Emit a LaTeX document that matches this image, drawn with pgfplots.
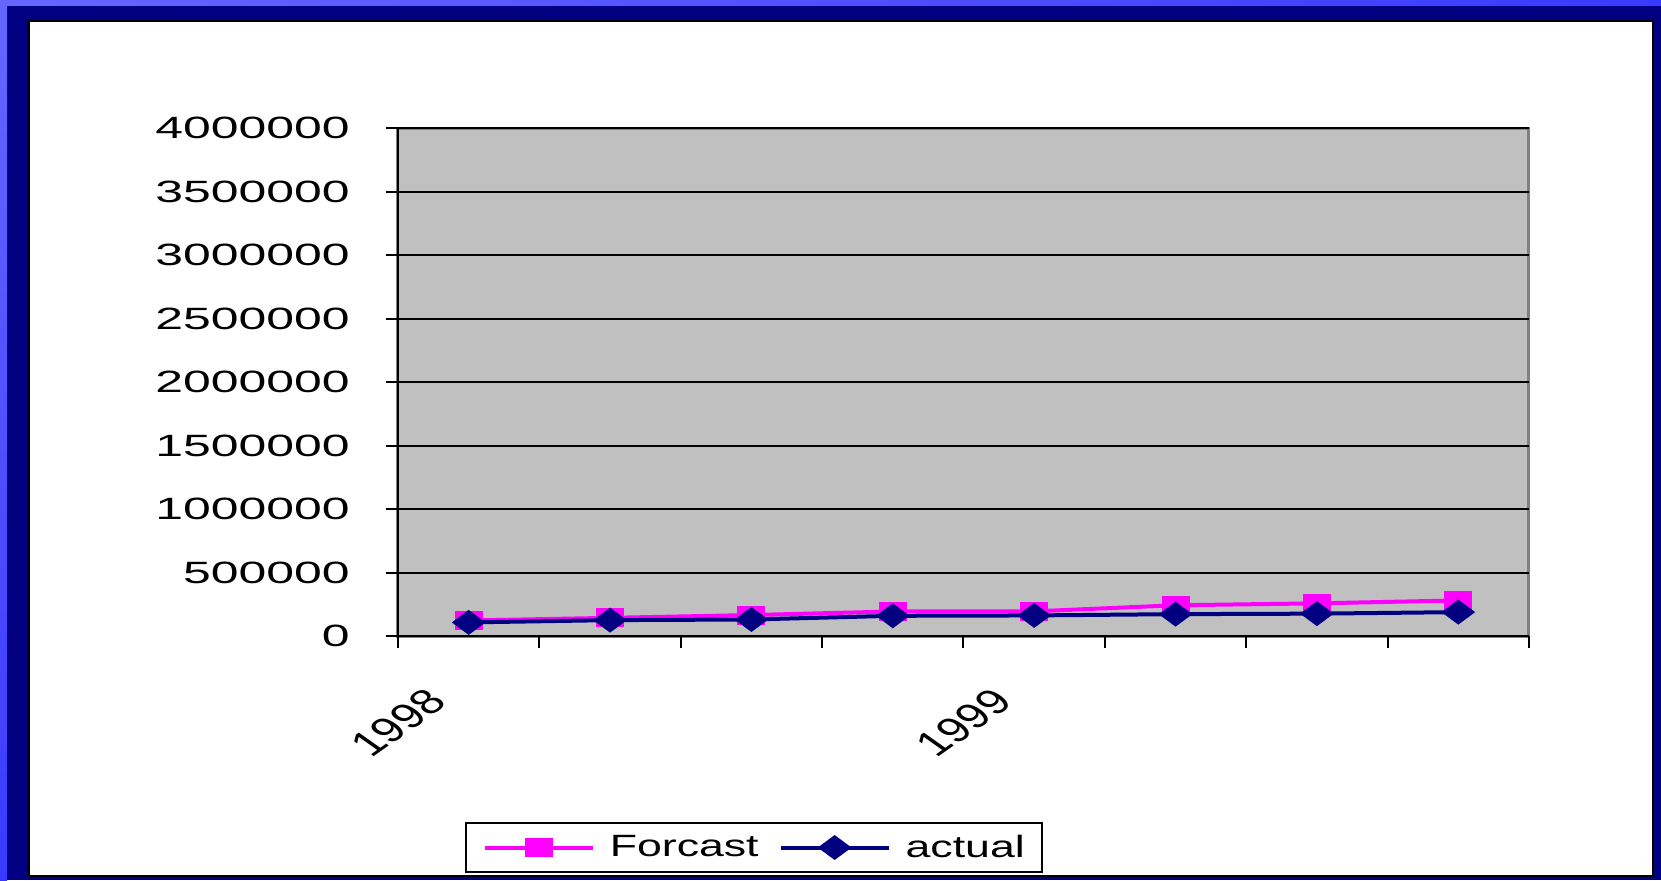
\documentclass[border=0pt]{standalone}
\usepackage{fontspec}
\setmainfont{Liberation Sans}[FakeStretch=1.55]
\newfontfamily\plainfont{Liberation Sans}
\newfontfamily\tickfont{Liberation Sans}[FakeStretch=1.62]
\newfontfamily\legfont{Liberation Sans}[FakeStretch=1.45]
\usepackage{pgfplots}
\pgfplotsset{compat=1.18}
\definecolor{navyb}{HTML}{000080}
\definecolor{magb}{HTML}{FF00FF}
\definecolor{plotgray}{HTML}{C0C0C0}
\definecolor{lightb}{HTML}{6666FF}
\definecolor{midb}{HTML}{3A3AFF}
\begin{document}
\begin{tikzpicture}
\useasboundingbox (0pt,0pt) rectangle (830.5pt,440pt);
\begin{scope}[x=0.5pt,y=-0.5pt,shift={(0pt,440pt)}]
  \fill[navyb] (0,0) rectangle (1661,880);
  \shade[top color=lightb, bottom color=midb] (0,0) rectangle (7,880);
  \shade[left color=lightb, right color=midb] (0,0) rectangle (1661,6);
  \fill[white, draw=black, line width=1pt] (29,21) rectangle (1653,876);
\end{scope}
\begin{axis}[
  at={(199pt,122pt)}, anchor=south west,
  scale only axis, width=565.5pt, height=254pt,
  xmin=0.5, xmax=8.5, ymin=0, ymax=4000000,
  xtick={1,5}, xticklabels={1998,1999},
  minor xtick={0.5,1.5,...,8.5},
  ytick={0,500000,...,4000000},
  scaled y ticks=false,
  yticklabel style={/pgf/number format/fixed, /pgf/number format/1000 sep={},
    /pgf/number format/assume math mode=true,
    font=\tickfont\fontsize{15.4}{18}\selectfont, inner sep=0pt, xshift=-18pt},
  xticklabel style={font=\plainfont\fontsize{17.5}{20}\selectfont,
    anchor=north east, inner sep=0pt, xshift=-22pt, yshift=-19pt,
    cm={1.0,0.707,-1.0,0.707,(0,0)}},
  tick align=outside,
  major tick length=6pt, minor tick length=6pt,
  major x tick style={draw=none},
  minor x tick style={black, line width=1pt},
  ytick style={black, line width=1pt},
  ymajorgrids,
  major grid style={black, line width=1pt},
  axis background/.style={fill=plotgray, draw=gray, line width=1.5pt},
  axis x line*=bottom, axis y line*=left,
  axis line style={-, black, line width=1.2pt},
  legend columns=2,
  legend cell align=left,
  legend image code/.code={\draw[mark repeat=2,mark phase=2,#1] plot coordinates {(0pt,0pt) (27pt,0pt) (54pt,0pt)};},
  legend style={at={(0.0592,-0.4665)}, anchor=south west, draw=black, line width=0.8pt, fill=white,
    font=\legfont\fontsize{15.4}{18}\selectfont,
    inner xsep=8.5pt, inner ysep=6pt, nodes={inner sep=0pt},
    /tikz/every odd column/.append style={column sep=7.5pt},
    /tikz/every even column/.append style={column sep=10pt}},
]
\addplot[magb, line width=2pt, mark=square*, mark size=3.75pt, mark options={xscale=1.6, solid, fill=magb}]
  coordinates {(1,122000) (2,143000) (3,165000) (4,193000) (5,194000) (6,242000) (7,257000) (8,280000)};
\addlegendentry{Forcast}
\addplot[navyb, line width=2pt, mark=diamond*, mark size=5pt, mark options={xscale=1.8, solid, fill=navyb}]
  coordinates {(1,107000) (2,125000) (3,130000) (4,159000) (5,162000) (6,172000) (7,176000) (8,188000)};
\addlegendentry{actual}
\end{axis}
\end{tikzpicture}
\end{document}
